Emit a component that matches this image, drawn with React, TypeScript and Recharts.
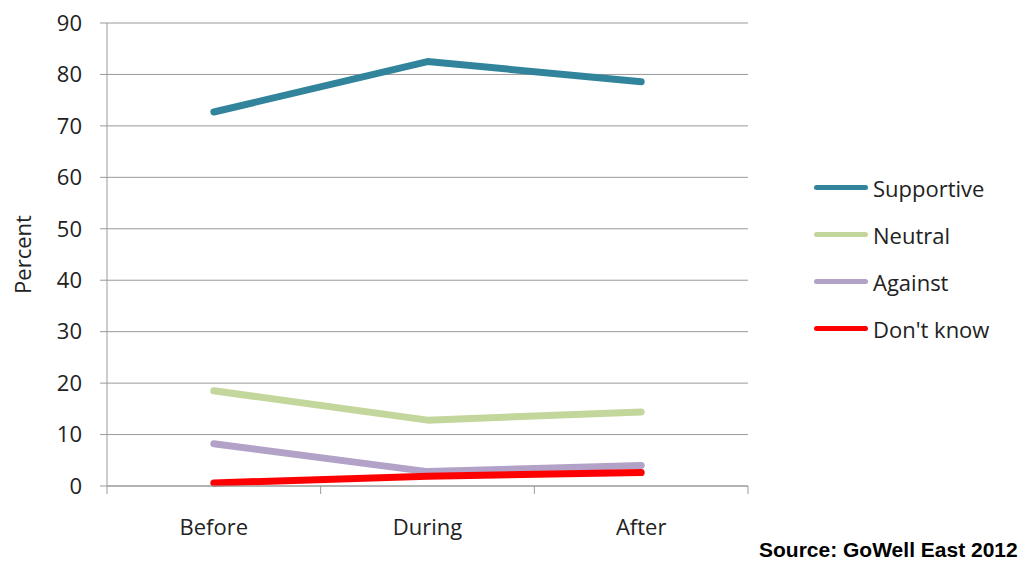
import React from "react";
import { LineChart, Line, XAxis, YAxis, CartesianGrid } from "recharts";

const periods = ["Before", "During", "After"];
const supportive = [72.7, 82.5, 78.6];
const neutral = [18.5, 12.8, 14.4];
const against = [8.2, 2.8, 4.0];
const dontKnow = [0.6, 1.9, 2.6];
const yTicks = [0, 10, 20, 30, 40, 50, 60, 70, 80, 90];

const series = [
  { key: "supportive", name: "Supportive", color: "#31849b" },
  { key: "neutral", name: "Neutral", color: "#c3d69b" },
  { key: "against", name: "Against", color: "#b3a2c7" },
  { key: "dontKnow", name: "Don't know", color: "#ff0000" },
];

const data = periods.map((p, i) => ({
  period: p,
  supportive: supportive[i],
  neutral: neutral[i],
  against: against[i],
  dontKnow: dontKnow[i],
}));

const font = "'Open Sans', sans-serif";
const gridColor = "#9a9a9a";

// chart frame
const W = 1024;
const H = 561;
const M = { top: 23, right: 276, bottom: 35, left: 47 };
const Y_W = 60;
const bandW = (W - M.left - M.right - Y_W) / periods.length;

// category label + tick marks on the band edges (Excel style)
function XTick(props: any) {
  const { x, y, payload, index } = props;
  const half = bandW / 2;
  const isLast = index === periods.length - 1;
  return (
    <g>
      <line x1={x - half} x2={x - half} y1={y - 8} y2={y} stroke={gridColor} />
      {isLast && (
        <line x1={x + half} x2={x + half} y1={y - 8} y2={y} stroke={gridColor} />
      )}
      <text
        x={x}
        y={y + 32}
        textAnchor="middle"
        dominantBaseline="central"
        fill="#222"
        fontSize={22}
        fontFamily={font}
      >
        {payload.value}
      </text>
    </g>
  );
}

export default function App() {
  return (
    <div
      style={{
        position: "absolute",
        left: 0,
        top: 0,
        width: W,
        height: H,
        background: "#fff",
      }}
    >
      <LineChart width={W} height={H} data={data} margin={M}>
        <CartesianGrid vertical={false} stroke={gridColor} />
        <XAxis
          dataKey="period"
          padding={{ left: bandW / 2, right: bandW / 2 }}
          axisLine={{ stroke: gridColor }}
          tickLine={false}
          tickSize={8}
          tickMargin={0}
          tick={<XTick />}
          interval={0}
          height={40}
        />
        <YAxis
          domain={[0, 90]}
          ticks={yTicks}
          width={Y_W}
          axisLine={{ stroke: gridColor }}
          tickLine={{ stroke: gridColor }}
          tickSize={7}
          tick={{ fill: "#222", fontSize: 22, fontFamily: font }}
          tickMargin={18}
          label={{
            value: "Percent",
            angle: -90,
            position: "insideLeft",
            offset: -24,
            style: {
              fill: "#222",
              fontSize: 22,
              fontFamily: font,
              textAnchor: "middle",
            },
          }}
        />
        {series.map((s) => (
          <Line
            key={s.key}
            dataKey={s.key}
            name={s.name}
            stroke={s.color}
            strokeWidth={7}
            strokeLinecap="round"
            strokeLinejoin="round"
            dot={false}
            activeDot={false}
            isAnimationActive={false}
          />
        ))}
      </LineChart>
      <div
        style={{
          position: "absolute",
          left: 814,
          top: 164,
          fontFamily: font,
          fontSize: 22,
          color: "#222",
        }}
      >
        {series.map((s) => (
          <div
            key={s.key}
            style={{ display: "flex", alignItems: "center", height: 47 }}
          >
            <span
              style={{
                display: "inline-block",
                width: 54,
                height: 5,
                borderRadius: 3,
                background: s.color,
                marginRight: 5,
              }}
            />
            <span>{s.name}</span>
          </div>
        ))}
      </div>
      <div
        style={{
          position: "absolute",
          left: 759,
          top: 538,
          fontFamily: "'Liberation Sans', Arial, sans-serif",
          fontWeight: "bold",
          fontSize: 21,
          color: "#000",
        }}
      >
        Source: GoWell East 2012
      </div>
    </div>
  );
}
